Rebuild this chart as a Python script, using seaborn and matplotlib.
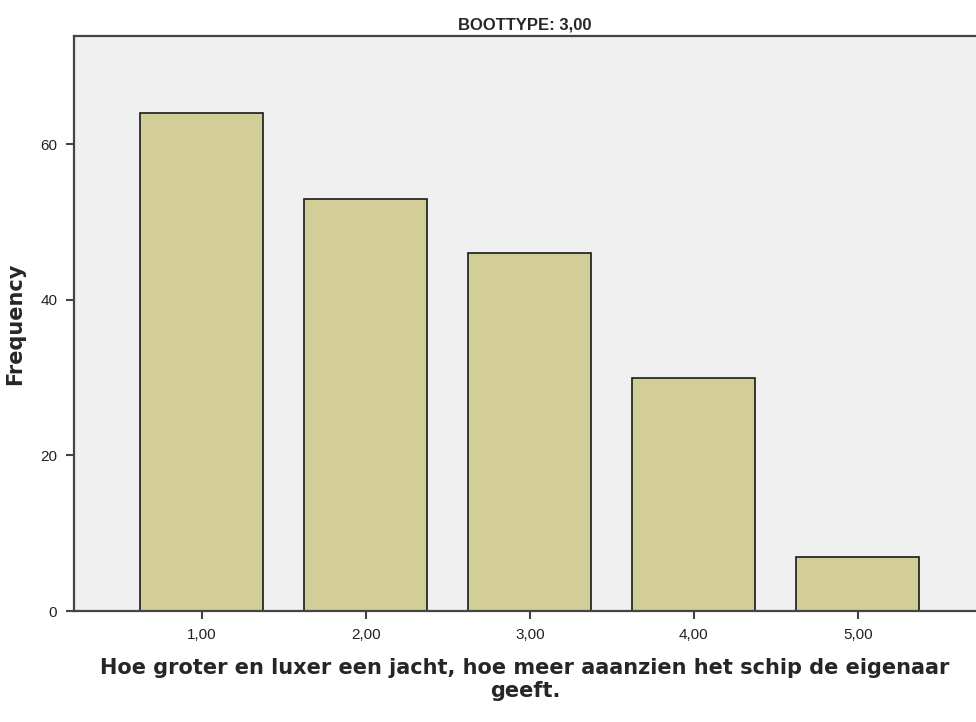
import matplotlib
matplotlib.use("Agg")
import matplotlib.pyplot as plt
import seaborn as sns
import pandas as pd

# data
categories = ["1,00", "2,00", "3,00", "4,00", "5,00"]
frequencies = [64, 53, 46, 30, 7]
y_ticks = [0, 20, 40, 60]

df = pd.DataFrame({"cat": categories, "freq": frequencies})

sns.set_style("white")
plt.rcParams["font.family"] = ["Liberation Sans", "DejaVu Sans"]

fig = plt.figure(figsize=(9.76, 7.22), dpi=100)
ax = fig.add_axes([0.0758, 0.1537, 0.9242, 0.7963])

sns.barplot(data=df, x="cat", y="freq", color="#D3CE97", saturation=1,
            width=0.75, edgecolor="#1a1a1a", linewidth=1.2, ax=ax)

ax.set_facecolor("#F0F0F0")
ax.set_xlim(-0.78, 4.72)
ax.set_ylim(0, 73.9)
ax.set_yticks(y_ticks)
ax.set_yticklabels([str(v) for v in y_ticks], fontsize=11, color="#222222")
ax.tick_params(axis="x", labelsize=11, colors="#222222")
ax.tick_params(axis="both", direction="out", length=6, width=1.5, color="#444444", pad=6)
ax.xaxis.set_ticks_position("bottom")
ax.yaxis.set_ticks_position("left")

for s in ["left", "bottom", "top"]:
    ax.spines[s].set_color("#444444")
    ax.spines[s].set_linewidth(1.6)
ax.spines["right"].set_visible(False)

ax.set_ylabel("Frequency", fontsize=15, fontweight="bold", labelpad=11,
              family=["DejaVu Sans"])
ax.set_xlabel("Hoe groter en luxer een jacht, hoe meer aaanzien het schip de eigenaar\ngeeft.",
              fontsize=15, fontweight="bold", labelpad=12, linespacing=1.15,
              family=["DejaVu Sans"])
ax.set_title("BOOTTYPE: 3,00", fontsize=12, fontweight="bold", pad=5)

fig.savefig("out.png", dpi=100)
